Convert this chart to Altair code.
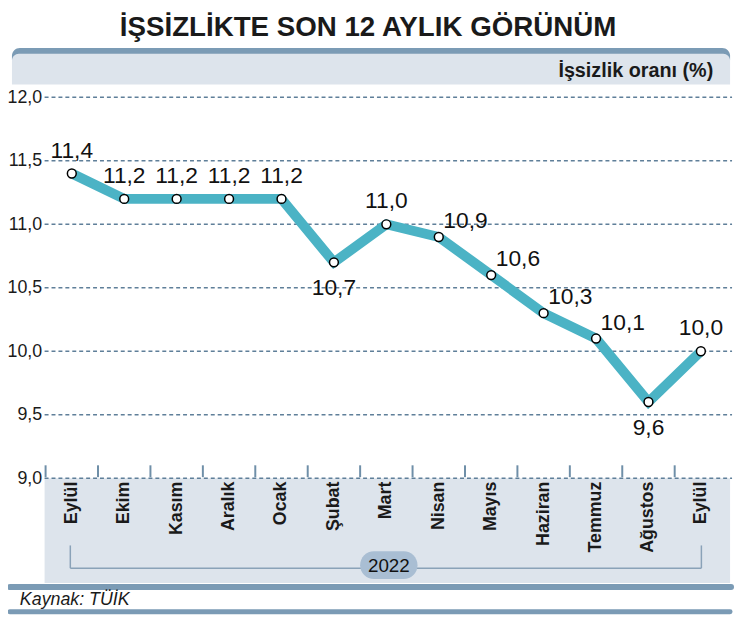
import json
import altair as alt
import pandas as pd

# ---------------- data ----------------
months = ["Eylül", "Ekim", "Kasım", "Aralık", "Ocak", "Şubat", "Mart",
          "Nisan", "Mayıs", "Haziran", "Temmuz", "Ağustos", "Eylül"]
rates = [11.4, 11.2, 11.2, 11.2, 11.2, 10.7, 11.0, 10.9, 10.6, 10.3, 10.1, 9.6, 10.0]
y_ticks = [9.0, 9.5, 10.0, 10.5, 11.0, 11.5, 12.0]
title_text = "İŞSİZLİKTE SON 12 AYLIK GÖRÜNÜM"
unit_text = "İşsizlik oranı (%)"
year_text = "2022"
source_text = "Kaynak: TÜİK"

# label placement groups (by month index)
above_idx = [0, 1, 2, 3, 4, 6, 12]
right_idx = [7, 8, 9, 10]
below_idx = [5, 11]

# ---------------- style ----------------
FONT = "Liberation Sans, Arial, sans-serif"
W, H = 689, 385
LINE = "#4bb3c5"
GRID = "#5f7f99"
BAND = "#dde4ec"
DARK = "#7b9bb5"
PILL = "#a9bed3"

df = pd.DataFrame({"i": list(range(len(months))), "rate": rates})
df["lab"] = [f"{v:.1f}".replace(".", ",") for v in rates]
grid_df = pd.DataFrame({"v": y_ticks})

label_expr = json.dumps(months, ensure_ascii=False) + "[datum.value]"
xscale = alt.Scale(type="band", paddingInner=0, paddingOuter=0)
yscale = alt.Scale(domain=[9.0, 12.0], nice=False, zero=False)

yaxis = alt.Axis(values=y_ticks, title=None, zindex=1, labelFontSize=18,
                 labelExpr="replace(format(datum.value, '.1f'), '.', ',')")
xaxis = alt.Axis(orient="bottom", title=None, labelExpr=label_expr, labelAngle=270,
                 zindex=1, labelOverlap=False, labelFontSize=18, labelFontWeight="bold")

one = alt.Data(values=[{"a": 1}])


def box(x1, x2, y1, y2, color, **kw):
    return alt.Chart(one).mark_rect(color=color, **kw).encode(
        x=alt.value(x1), x2=alt.value(x2), y=alt.value(y1), y2=alt.value(y2))


def hline(x1, x2, y, color, width, **kw):
    return alt.Chart(one).mark_rule(color=color, strokeWidth=width, **kw).encode(
        x=alt.value(x1), x2=alt.value(x2), y=alt.value(y))


def vline(x, y1, y2, color, width, **kw):
    return alt.Chart(one).mark_rule(color=color, strokeWidth=width, **kw).encode(
        x=alt.value(x), y=alt.value(y1), y2=alt.value(y2))


def label(text, x, y, **kw):
    return alt.Chart(alt.Data(values=[{"t": text}])).mark_text(**kw).encode(
        x=alt.value(x), y=alt.value(y), text="t:N")


# ---------------- decorations ----------------
header_dark = box(-34, 692, -50, -30, DARK, cornerRadius=8)
header_light = box(-34, 692, -44, -13, BAND, cornerRadiusTopLeft=7, cornerRadiusTopRight=7)
header_txt = label(unit_text, 675, -27, font=FONT, fontSize=20, fontWeight="bold",
                   align="right", baseline="middle", color="#1a1a1a")
title = label(title_text, 326, -70, font=FONT, fontSize=28, fontWeight="bold",
              align="center", baseline="middle", color="#1a1a1a")

lower_band = box(-1, 692, 385, 491, BAND)
bracket_h = hline(25, 663, 476, "#8aa2b8", 1.5)
bracket_l = vline(25, 453, 476, "#8aa2b8", 1.5)
bracket_r = vline(663, 453, 476, "#8aa2b8", 1.5)
pill = box(318, 376, 459, 487, PILL, cornerRadius=14)
pill_txt = label(year_text, 347, 474, font=FONT, fontSize=19, align="center",
                 baseline="middle", color="#111111")

foot_line1 = hline(-36, 693, 495, DARK, 6, strokeCap="round")
foot_line2 = hline(-36, 692, 520, DARK, 5, strokeCap="round")
src = label(source_text, -26, 508, font=FONT, fontSize=18, fontStyle="italic",
            align="left", baseline="middle", color="#1a1a1a")

# ---------------- grid ----------------
grid = alt.Chart(grid_df).mark_rule(color=GRID, strokeWidth=1.5, strokeDash=[4, 3]).encode(
    y=alt.Y("v:Q", scale=yscale, axis=yaxis),
    x=alt.value(-1), x2=alt.value(694))

# ---------------- data marks ----------------
base = alt.Chart(df)

# small ticks at the boundaries of the month bands
band_ticks = base.mark_rule(color="#6f8fa8", strokeWidth=2).encode(
    x=alt.X("i:O", scale=xscale, axis=xaxis, bandPosition=0),
    y=alt.value(H - 13), y2=alt.value(H - 1))

line = base.mark_line(color=LINE, strokeWidth=10, strokeJoin="miter").encode(
    x=alt.X("i:O", scale=xscale, axis=xaxis),
    y=alt.Y("rate:Q", scale=yscale, axis=yaxis))

points = base.mark_point(filled=True, fill="white", stroke="black", strokeWidth=1.5,
                         size=80, opacity=1).encode(
    x=alt.X("i:O", scale=xscale, axis=xaxis),
    y=alt.Y("rate:Q", scale=yscale, axis=yaxis))


def vlabels(idx, **kw):
    return base.transform_filter(
        alt.FieldOneOfPredicate(field="i", oneOf=idx)
    ).mark_text(font=FONT, fontSize=23, color="#111111", baseline="middle", **kw).encode(
        x=alt.X("i:O", scale=xscale, axis=xaxis),
        y=alt.Y("rate:Q", scale=yscale, axis=yaxis),
        text="lab:N")


lab_above = vlabels(above_idx, align="center", dy=-23)
lab_right = vlabels(right_idx, align="center", dx=27, dy=-16)
lab_below = vlabels(below_idx, align="center", dy=26)

chart = alt.layer(
    header_dark, header_light, header_txt, title,
    lower_band, bracket_h, bracket_l, bracket_r, pill, pill_txt,
    foot_line1, foot_line2, src,
    grid, band_ticks, line, points, lab_above, lab_right, lab_below,
).properties(
    width=W, height=H,
    autosize=alt.AutoSizeParams(type="none"),
    padding={"left": 38, "top": 87, "right": 10, "bottom": 135},
    background="white",
).configure_view(stroke=None).configure_axis(
    grid=False, ticks=False, domain=False, labelColor="#1a1a1a",
    labelFont=FONT,
).configure_axisX(
    labelFontSize=18, labelFontWeight="bold", labelPadding=3,
).configure_axisY(
    labelFontSize=18, labelPadding=4,
)

chart.save("out.html", embed_options={"renderer": "svg", "actions": False})
